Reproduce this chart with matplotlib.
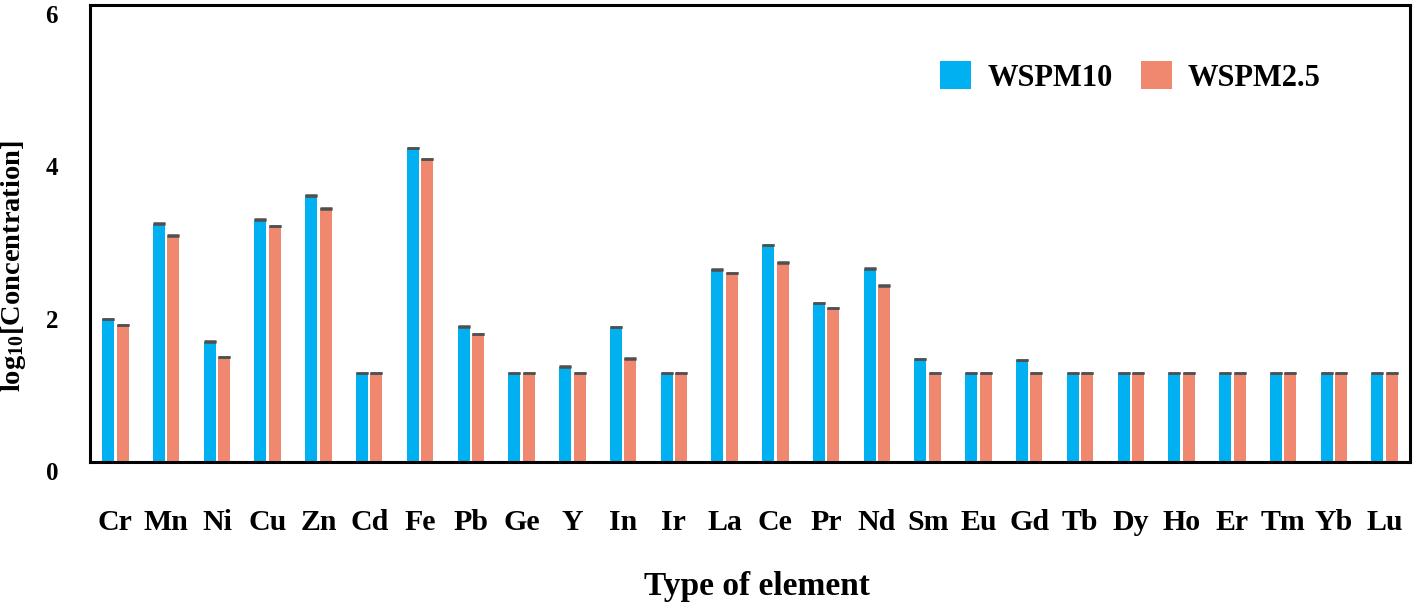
import matplotlib
matplotlib.use("Agg")
import matplotlib.pyplot as plt
import matplotlib.transforms as mtransforms
import numpy as np

elements = ["Cr", "Mn", "Ni", "Cu", "Zn", "Cd", "Fe", "Pb", "Ge", "Y", "In", "Ir", "La",
            "Ce", "Pr", "Nd", "Sm", "Eu", "Gd", "Tb", "Dy", "Ho", "Er", "Tm", "Yb", "Lu"]
wspm10 = [1.88, 3.13, 1.58, 3.18, 3.50, 1.17, 4.12, 1.78, 1.17, 1.25, 1.77, 1.17, 2.53,
          2.85, 2.09, 2.54, 1.35, 1.17, 1.34, 1.17, 1.17, 1.17, 1.17, 1.17, 1.17, 1.17]
wspm25 = [1.80, 2.97, 1.38, 3.10, 3.33, 1.17, 3.98, 1.68, 1.17, 1.17, 1.36, 1.17, 2.48,
          2.62, 2.02, 2.32, 1.17, 1.17, 1.17, 1.17, 1.17, 1.17, 1.17, 1.17, 1.17, 1.17]
err10 = [0.004] * len(elements)
err25 = [0.004] * len(elements)
series_names = ["WSPM10", "WSPM2.5"]
yticks = [0, 2, 4, 6]

plt.rcParams['font.family'] = ['Liberation Serif', 'DejaVu Serif']
plt.rcParams['font.weight'] = 'bold'
plt.rcParams['mathtext.fontset'] = 'custom'
plt.rcParams['mathtext.rm'] = 'Liberation Serif:bold'
plt.rcParams['mathtext.bf'] = 'Liberation Serif:bold'
plt.rcParams['mathtext.it'] = 'Liberation Serif:bold'

fig = plt.figure(figsize=(14.13, 6.06), dpi=100)
ax = fig.add_axes([90/1413, 1-462/606, 1320/1413, 457/606])

x = np.arange(len(elements))
w = 0.236
off = 0.142
blue = '#00B0F0'
orange = '#F08870'
ax.bar(x - off, wspm10, w, color=blue, label=series_names[0], zorder=2)
ax.bar(x + off, wspm25, w, color=orange, label=series_names[1], zorder=2)
ax.errorbar(x - off, wspm10, yerr=err10, fmt='none', ecolor='#505050',
            capsize=4, capthick=1.8, elinewidth=0.8, zorder=3)
ax.errorbar(x + off, wspm25, yerr=err25, fmt='none', ecolor='#505050',
            capsize=4, capthick=1.8, elinewidth=0.8, zorder=3)

ax.set_xlim(-0.5, 25.5)
ax.set_ylim(0, 6)
ax.set_xticks(x)
ax.set_xticklabels(elements, fontsize=21.5, fontweight='bold')
ax.set_yticks(yticks)
ax.set_yticklabels([str(t) for t in yticks], fontsize=18, fontweight='bold')
ax.tick_params(axis='x', length=0, pad=34)
ax.tick_params(axis='y', length=0, pad=23)

shift = mtransforms.ScaledTranslation(0, -9/100, fig.dpi_scale_trans)
for lab in ax.get_yticklabels():
    lab.set_transform(lab.get_transform() + shift)

for sp in ax.spines.values():
    sp.set_linewidth(2.2)
    sp.set_color('black')

ax.set_xlabel("Type of element", fontsize=24, fontweight='bold')
ax.xaxis.set_label_coords(0.505, -0.238)
ax.set_ylabel(r"log$_{\mathbf{10}}$[Concentration]", fontsize=20.5, fontweight='bold')
ax.yaxis.set_label_coords(-0.047, 0.429)

leg = ax.legend(loc='center left', bbox_to_anchor=(940/1413, 1-77/606),
                bbox_transform=fig.transFigure, ncol=2, frameon=False,
                prop={'family': 'Liberation Serif', 'weight': 'bold', 'size': 22},
                handlelength=1.03, handleheight=1.03, handletextpad=0.52,
                columnspacing=0.92, borderpad=0, borderaxespad=0)

fig.savefig("out.png", dpi=100)
